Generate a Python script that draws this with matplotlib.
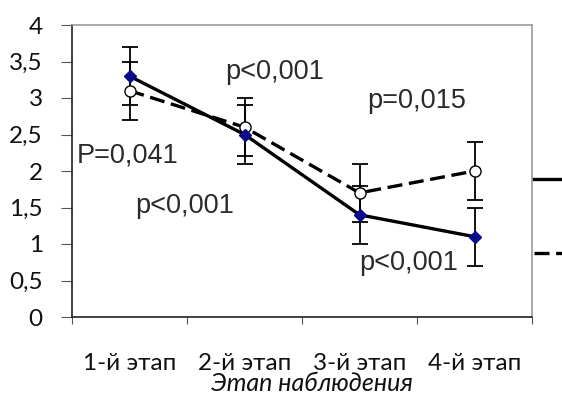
import matplotlib
matplotlib.use("Agg")
import matplotlib.pyplot as plt
from matplotlib.lines import Line2D
import numpy as np

stages = ["1-й этап", "2-й этап", "3-й этап", "4-й этап"]
solid_vals = [3.3, 2.5, 1.4, 1.1]
dashed_vals = [3.1, 2.6, 1.7, 2.0]
solid_err = [0.4, 0.4, 0.4, 0.4]
dashed_err = [0.4, 0.4, 0.4, 0.4]
y_ticks = [0, 0.5, 1, 1.5, 2, 2.5, 3, 3.5, 4]
annotations = [
    ("P=0,041", 0.54, 2.12),
    ("p<0,001", 1.05, 1.42),
    ("p<0,001", 1.83, 3.26),
    ("p=0,015", 3.07, 2.86),
    ("p<0,001", 3.00, 0.64),
]
xlabel = "Этап наблюдения"

fig = plt.figure(figsize=(5.62, 3.94), dpi=100)
ax = fig.add_axes([72/562, 77/394, 460/562, 292/394])

x = np.arange(1, len(stages) + 1)

ax.errorbar(x, dashed_vals, yerr=dashed_err, fmt='none', ecolor='black',
            elinewidth=1.3, capsize=5.8, capthick=1.3, zorder=2)
ax.errorbar(x, solid_vals, yerr=solid_err, fmt='none', ecolor='black',
            elinewidth=1.3, capsize=5.8, capthick=1.3, zorder=2)
ax.plot(x, dashed_vals, color='black', lw=2.4, ls=(0, (4.5, 2)),
        marker='o', ms=8, mfc='white', mec='black', mew=1.0, zorder=3)
ax.plot(x, solid_vals, color='black', lw=2.4, ls='-',
        marker='D', ms=6, mfc='#0a0a8c', mec='#0a0a8c', zorder=4)

for txt, tx, ty in annotations:
    ax.text(tx, ty, txt, fontsize=19.5, family='Liberation Sans',
            color='#2a2a2a', ha='left', va='baseline', zorder=5)

ax.set_xlim(0.5, 4.5)
ax.set_ylim(0, 4)
ax.set_yticks(y_ticks)
ax.set_yticklabels([("%g" % v).replace('.', ',') for v in y_ticks],
                   fontsize=17.5, family='Lato', color='#111111')
ax.set_xticks(x)
ax.set_xticklabels(stages, fontsize=17.5, family='Lato', color='#111111')
ax.set_xticks(np.arange(0.5, 4.6, 1.0), minor=True)
ax.tick_params(axis='x', which='major', length=0, pad=26)
ax.tick_params(axis='x', which='minor', length=5, width=0.8, direction='out', color='#555555')
ax.tick_params(axis='y', length=8, width=0.8, direction='out', color='#555555', pad=13)

ax.spines['left'].set_color('#222222')
ax.spines['bottom'].set_color('#222222')
ax.spines['left'].set_linewidth(1.2)
ax.spines['bottom'].set_linewidth(1.2)
ax.spines['top'].set_color('#999999')
ax.spines['right'].set_color('#999999')
ax.spines['top'].set_linewidth(1.2)
ax.spines['right'].set_linewidth(1.2)

ax.set_xlabel(xlabel, fontsize=18, family='Lato', style='italic', color='#111111')
ax.xaxis.set_label_coords(0.522, -0.19)

# partially visible legend handles at the right edge
fig.add_artist(Line2D([534/562, 1.0], [1 - 179/394, 1 - 179/394],
                      transform=fig.transFigure, color='black', lw=2.4))
fig.add_artist(Line2D([534/562, 1.0], [1 - 253/394, 1 - 253/394],
                      transform=fig.transFigure, color='black', lw=2.4,
                      ls=(0, (4.5, 2))))

fig.savefig("out.png", dpi=100)
